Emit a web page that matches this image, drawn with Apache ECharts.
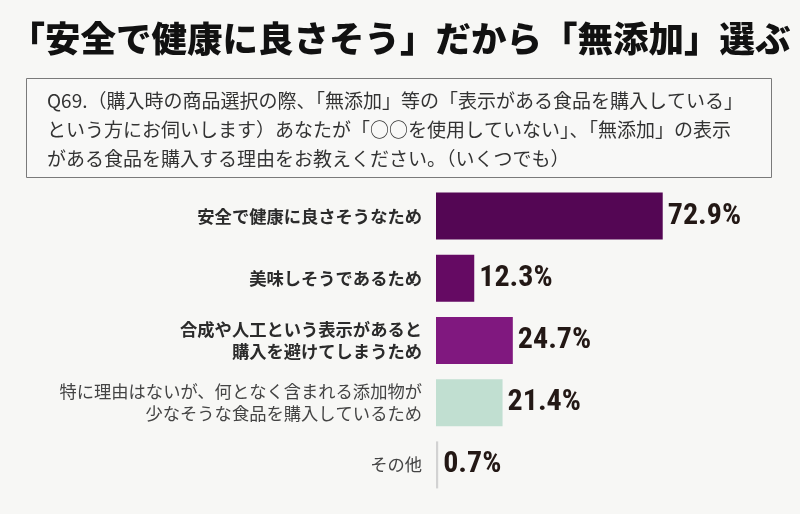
<!DOCTYPE html>
<html>
<head>
	<meta charset="utf-8">
	<title>無添加を選ぶ理由</title>
	<script type="text/javascript" src="https://cdn.jsdelivr.net/npm/echarts@6/dist/echarts.min.js"></script>
	<style>
		html, body { margin: 0; padding: 0; background: #f7f7f5; }
		#chart { width: 800px; height: 514px; }
	</style>
</head>
<body>
<div id="chart"></div>
<script type="text/javascript">
	var titleText = '「安全で健康に良さそう」だから「無添加」選ぶ';
	var questionLines = [
		'Q69.（購入時の商品選択の際、「無添加」等の「表示がある食品を購入している」',
		'という方にお伺いします）あなたが「○○を使用していない」、「無添加」の表示',
		'がある食品を購入する理由をお教えください。（いくつでも）'
	];
	var categories = [
		'安全で健康に良さそうなため',
		'美味しそうであるため',
		'合成や人工という表示があると\n購入を避けてしまうため',
		'特に理由はないが、何となく含まれる添加物が\n少なそうな食品を購入しているため',
		'その他'
	];
	var values = [72.9, 12.3, 24.7, 21.4, 0.7];

	var barColors = ['#540654', '#650a63', '#80187f', '#c1dfd1', '#d2d2d2'];
	var jpFont = '"Noto Sans CJK JP", "Noto Sans", sans-serif';

	var myChart = echarts.init(document.getElementById('chart'));
	var option = {
		backgroundColor: '#f7f7f5',
		animation: false,
		title: {
			text: titleText,
			left: 'center',
			top: 16,
			textStyle: {
				fontFamily: jpFont,
				fontSize: 35.5,
				fontWeight: 900,
				color: '#111'
			}
		},
		graphic: [{
			type: 'rect',
			shape: { x: 26.5, y: 78.5, width: 745, height: 99 },
			style: { fill: '#f8f8f7', stroke: '#7a7a7a', lineWidth: 1 }
		}, {
			type: 'text',
			left: 47,
			top: 86,
			style: {
				text: questionLines.join('\n'),
				fontFamily: jpFont,
				fontSize: 19,
				lineHeight: 29,
				fill: '#333'
			}
		}],
		grid: {
			left: 436,
			top: 185,
			width: 311,
			height: 311,
			containLabel: false
		},
		xAxis: {
			type: 'value',
			min: 0,
			max: 100,
			show: false
		},
		yAxis: {
			type: 'category',
			data: categories,
			inverse: true,
			axisLine: { show: false },
			axisTick: { show: false },
			axisLabel: {
				margin: 14,
				formatter: function (v, i) {
					var tag = i < 3 ? 'b' : 'n';
					return v.split('\n').map(function (s) {
						return '{' + tag + '|' + s + '}';
					}).join('\n');
				},
				rich: {
					b: {
						fontFamily: jpFont,
						fontSize: 17.3,
						fontWeight: 'bold',
						color: '#2b2b2b',
						lineHeight: 22,
						align: 'right'
					},
					n: {
						fontFamily: jpFont,
						fontSize: 17.3,
						color: '#444',
						lineHeight: 22,
						align: 'right'
					}
				}
			}
		},
		series: [{
			type: 'bar',
			data: values.map(function (v, i) {
				return { value: v, itemStyle: { color: barColors[i] } };
			}),
			barWidth: 47,
			label: {
				show: true,
				position: 'right',
				distance: 5,
				formatter: function (p) { return p.value.toFixed(1) + '%'; },
				fontFamily: '"Liberation Sans Narrow", "Roboto Condensed", Roboto, sans-serif',
				fontSize: 30,
				fontWeight: 'bold',
				letterSpacing: -1,
				color: '#231815'
			}
		}]
	};
	myChart.setOption(option);
</script>
</body>
</html>
